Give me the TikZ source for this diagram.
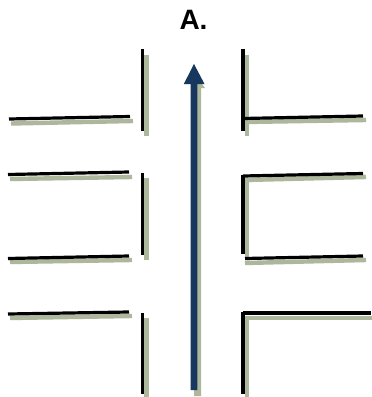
\documentclass[tikz,border=0pt]{standalone}
\usepackage{fontspec}
\setmainfont{Liberation Sans}
\definecolor{shadowc}{HTML}{ACB79B}
\definecolor{arrowc}{HTML}{17375E}
\tikzset{
  wall/.style={draw=black,line width=3.2pt},
  wallshadow/.style={draw=shadowc,line width=4.4pt},
  title/.style={font=\bfseries\fontsize{28}{30}\selectfont,inner sep=0pt}
}
\begin{document}
\begin{tikzpicture}[x=1pt,y=-1pt]
\useasboundingbox (0,0) rectangle (372,397);
\path[fill=white] (0,0) rectangle (372,397);
\node[title] (label) at (193.5,20) {A.};
% shadows
\draw[wallshadow] (146.5,55) -- (146.5,136);
\draw[wallshadow] (146.5,178) -- (146.5,260);
\draw[wallshadow] (146.5,318) -- (146.5,397);
\draw[wallshadow] (247,55) -- (247,136);
\draw[wallshadow] (247,180) -- (247,258);
\draw[wallshadow] (247,318) -- (247,397);
\draw[wallshadow] (11,123.5) -- (133,121);
\draw[wallshadow] (10,179) -- (132,177);
\draw[wallshadow] (10,262) -- (132,260);
\draw[wallshadow] (10,318) -- (132,316);
\draw[wallshadow] (245,122) -- (366,120);
\draw[wallshadow] (245,180) -- (366,177);
\draw[wallshadow] (245,263) -- (366,260);
\draw[wallshadow] (245,318) -- (372,318);
% walls
\draw[wall] (142.5,49) -- (142.5,131);
\draw[wall] (142.5,173) -- (142.5,255);
\draw[wall] (142.5,313) -- (142.5,394);
\draw[wall] (243,49) -- (243,131);
\draw[wall] (243,174.5) -- (243,254);
\draw[wall] (243,312) -- (243,394);
\draw[wall] (9,119) -- (130,116.5);
\draw[wall] (8,174.5) -- (129,172);
\draw[wall] (8,258.5) -- (129,256);
\draw[wall] (8,314) -- (129,312);
\draw[wall] (243,118.5) -- (363,116);
\draw[wall] (243,176) -- (363,173.5);
\draw[wall] (245,258.5) -- (363,256);
\draw[wall] (243,313) -- (371,313);
% arrow
\fill[shadowc] (194,85) -- (194,396) -- (201,396) -- (201,88) -- (205,88) -- (199,80) -- cycle;
\fill[arrowc] (190.7,390) -- (197.3,390) -- (197.3,84) -- (204.5,84) -- (194,64) -- (183.8,84) -- (190.7,84) -- cycle;
\end{tikzpicture}
\end{document}
